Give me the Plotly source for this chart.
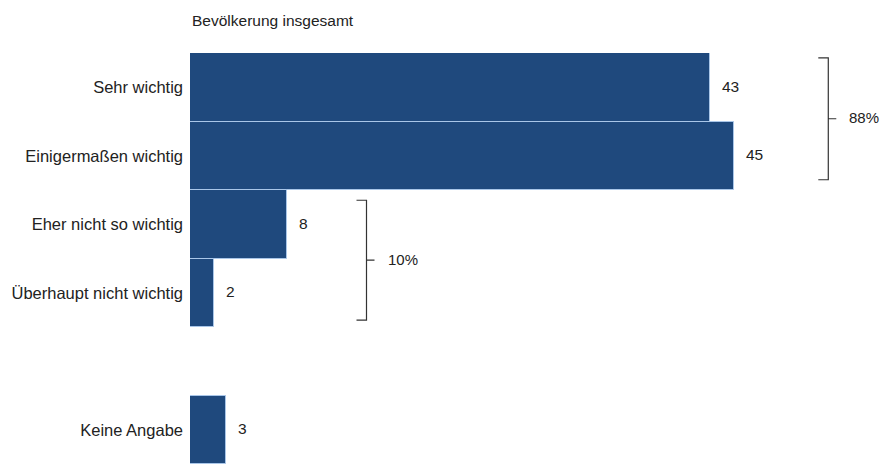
import plotly.graph_objects as go

# ---- data ----
categories = ["Sehr wichtig", "Einigermaßen wichtig", "Eher nicht so wichtig",
              "Überhaupt nicht wichtig", "Keine Angabe"]
values = [43, 45, 8, 2, 3]
positions = [0, 1, 2, 3, 5]          # slot 4 left empty as a spacer
title_text = "Bevölkerung insgesamt"
group_members = [[0, 1], [2, 3]]     # indices bracketed together
group_labels = ["88%", "10%"]

BAR = "#1F497D"
EDGE = "#A9C6E8"
TXT = "#222222"
FONT = "Liberation Sans, Arial, sans-serif"
PX_PER_UNIT = 680 / 56.25

fig = go.Figure()
fig.add_trace(go.Bar(
    x=values, y=positions, orientation="h",
    marker=dict(color=BAR, line=dict(color=EDGE, width=1)),
    width=1.0, hoverinfo="skip", showlegend=False,
))

# value labels
for v, p in zip(values, positions):
    fig.add_annotation(x=v, y=p, text=str(v), showarrow=False,
                       xanchor="left", xshift=10, yshift=1,
                       font=dict(size=15.5, color=TXT, family=FONT))

# brackets
offsets = [7.8, 6.6]
insets = [(0.07, 0.15), (0.15, 0.10)]
for members, lab, off, (it, ib) in zip(group_members, group_labels, offsets, insets):
    xs = max(values[i] for i in members) + off
    y0 = positions[members[0]] - 0.5 + it
    y1 = positions[members[-1]] + 0.5 - ib
    ym = (y0 + y1) / 2
    stub = 10 / PX_PER_UNIT
    tick = 8 / PX_PER_UNIT
    path = (f"M {xs - stub} {y0} L {xs} {y0} L {xs} {y1} L {xs - stub} {y1} "
            f"M {xs} {ym} L {xs + tick} {ym}")
    fig.add_shape(type="path", path=path, xref="x", yref="y",
                  line=dict(color="#333333", width=1.2))
    fig.add_annotation(x=xs + tick, y=ym, text=lab, showarrow=False,
                       xanchor="left", xshift=11, yshift=1,
                       font=dict(size=15, color=TXT, family=FONT))

# title
fig.add_annotation(x=0, y=1, xref="x", yref="paper", text=title_text,
                   showarrow=False, xanchor="left", yanchor="bottom", yshift=22,
                   font=dict(size=15.5, color=TXT, family=FONT))

fig.update_layout(
    width=880, height=464,
    margin=dict(l=190, r=10, t=53, b=0, autoexpand=False),
    paper_bgcolor="white", plot_bgcolor="white",
    bargap=0,
    xaxis=dict(range=[0, 56.25], visible=False, fixedrange=True, automargin=False),
    yaxis=dict(range=[5.5, -0.5], tickvals=positions, ticktext=categories,
               showgrid=False, zeroline=False, showline=False, ticks="",
               ticklabelstandoff=6, automargin=False,
               tickfont=dict(size=16.5, color=TXT, family=FONT), fixedrange=True),
    font=dict(family=FONT, color=TXT),
)

fig.write_html(
    "out.html",
    config={"displayModeBar": False},
    post_script="document.body.style.margin='0';document.body.style.overflow='hidden';",
)
